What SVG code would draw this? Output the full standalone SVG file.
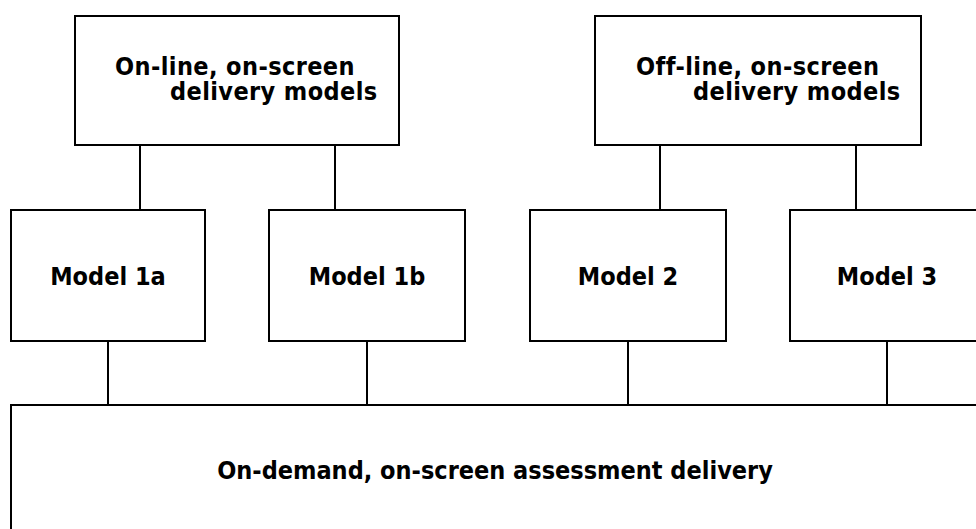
<svg xmlns="http://www.w3.org/2000/svg" width="976" height="529" viewBox="0 0 976 529">
  <style>
    .box { fill: #ffffff; stroke: #000000; stroke-width: 2; }
    .wire { stroke: #000000; stroke-width: 2; fill: none; }
    .lbl { font-family: "DejaVu Sans Condensed", "DejaVu Sans", sans-serif; font-stretch: condensed; font-weight: bold; font-size: 25px; fill: #000000; }
    .head { letter-spacing: 0.4px; }
    .mid { text-anchor: middle; }
  </style>

  <rect width="976" height="529" fill="#ffffff"/>

  <!-- connectors -->
  <g id="connectors">
    <line class="wire" x1="140" y1="145" x2="140" y2="210"/>
    <line class="wire" x1="335" y1="145" x2="335" y2="210"/>
    <line class="wire" x1="660" y1="145" x2="660" y2="210"/>
    <line class="wire" x1="856" y1="145" x2="856" y2="210"/>
    <line class="wire" x1="108" y1="341" x2="108" y2="405"/>
    <line class="wire" x1="367" y1="341" x2="367" y2="405"/>
    <line class="wire" x1="628" y1="341" x2="628" y2="405"/>
    <line class="wire" x1="887" y1="341" x2="887" y2="405"/>
  </g>

  <!-- upper groupings -->
  <g id="online">
    <rect class="box" x="75" y="16" width="324" height="129"/>
    <text class="lbl head" x="115" y="75">On-line, on-screen</text>
    <text class="lbl head" x="170" y="100">delivery models</text>
  </g>
  <g id="offline">
    <rect class="box" x="595" y="16" width="326" height="129"/>
    <text class="lbl head" x="636" y="75">Off-line, on-screen</text>
    <text class="lbl head" x="693" y="100">delivery models</text>
  </g>

  <!-- individual models -->
  <g id="model1a">
    <rect class="box" x="11" y="210" width="194" height="131"/>
    <text class="lbl mid" x="108" y="285">Model 1a</text>
  </g>
  <g id="model1b">
    <rect class="box" x="269" y="210" width="196" height="131"/>
    <text class="lbl mid" x="367" y="285">Model 1b</text>
  </g>
  <g id="model2">
    <rect class="box" x="530" y="210" width="196" height="131"/>
    <text class="lbl mid" x="628" y="285">Model 2</text>
  </g>
  <g id="model3">
    <rect class="box" x="790" y="210" width="196" height="131"/>
    <text class="lbl mid" x="887" y="285">Model 3</text>
  </g>

  <!-- base layer -->
  <g id="ondemand">
    <rect class="box" x="11" y="405" width="1000" height="200"/>
    <text class="lbl mid" x="495" y="479">On-demand, on-screen assessment delivery</text>
  </g>
</svg>
